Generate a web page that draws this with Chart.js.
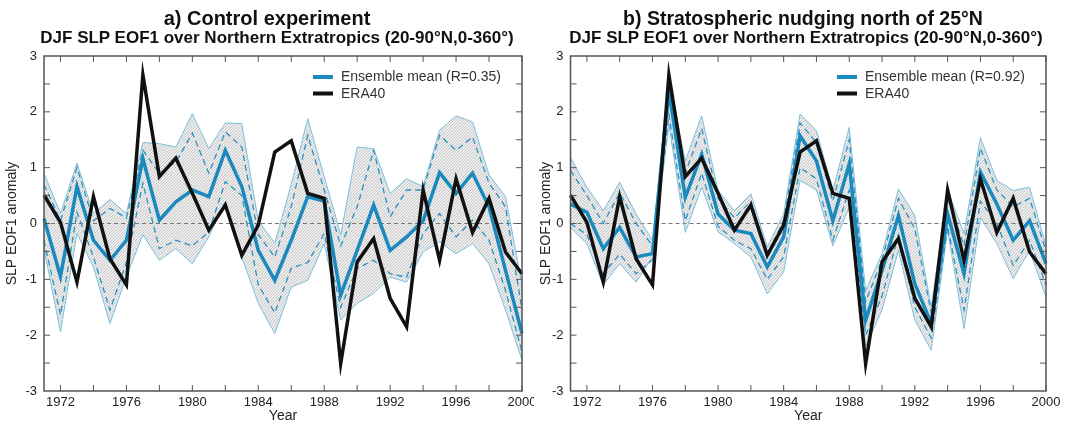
<!DOCTYPE html>
<html>
<head>
<meta charset="utf-8">
<script src="https://cdn.jsdelivr.net/npm/chart.js@4.4.0/dist/chart.umd.min.js"></script>
<style>
body{margin:0;background:#fff;font-family:'Liberation Sans',Arial,sans-serif}
.box{position:absolute;top:0;width:534px;height:427px}
.t{position:absolute;width:600px;text-align:center;font-weight:bold;color:#111;white-space:nowrap}
.t1{font-size:20px;line-height:20px;top:8px}
.t2{font-size:17px;line-height:17px;top:29px}
</style>
</head>
<body>
<div class="box" style="left:0"><canvas id="chartA" width="534" height="427"></canvas></div>
<div class="box" style="left:534px"><canvas id="chartB" width="534" height="427"></canvas></div>
<div class="t t1" style="left:-33px">a) Control experiment</div>
<div class="t t2" style="left:-23px">DJF SLP EOF1 over Northern Extratropics (20-90°N,0-360°)</div>
<div class="t t1" style="left:503px;font-size:19.5px">b) Stratospheric nudging north of 25°N</div>
<div class="t t2" style="left:506px">DJF SLP EOF1 over Northern Extratropics (20-90°N,0-360°)</div>
<script>

let years = [1971,1972,1973,1974,1975,1976,1977,1978,1979,1980,1981,1982,1983,1984,1985,
1986,1987,1988,1989,1990,1991,1992,1993,1994,1995,1996,1997,1998,1999,2000]

let era40 = [0.51,0.02,-1.05,0.48,-0.63,-1.1,2.66,0.84,1.17,0.54,-0.12,0.33,-0.57,-0.03,1.28,
1.48,0.54,0.45,-2.51,-0.69,-0.27,-1.34,-1.85,0.6,-0.66,0.8,-0.16,0.45,-0.51,-0.9]

// a) control run
let ctlMean = [0.09,-0.95,0.66,-0.3,-0.66,-0.3,1.16,0.06,0.39,0.6,0.48,1.31,0.66,-0.48,-1.02,
-0.3,0.48,0.4,-1.28,-0.48,0.33,-0.48,-0.24,0.05,0.91,0.54,0.9,0.3,-0.84,-1.97]
let ctlUpper = [0.9,0.18,1.08,0.18,0.43,0.18,1.45,1.43,1.37,1.97,1.34,1.8,1.79,0.05,-0.35,
0.7,1.88,0.84,-0.2,1.37,1.34,0.54,0.8,0.66,1.67,1.93,1.82,0.87,0.48,-1.1]
let ctlLower = [-0.45,-1.94,-0.18,-0.78,-1.79,-0.95,-0.2,-0.66,-0.45,-0.72,-0.24,0.4,-0.6,-1.43,-1.97,
-1.14,-1.02,-0.36,-1.73,-1.43,-1.25,-0.96,-1.05,-0.51,-0.33,-0.54,-0.36,-0.72,-1.55,-2.45]
let ctlUpDash = [0.7,0.05,1.0,0.05,0.27,0.1,1.31,0.9,1.1,1.62,0.9,1.64,1.37,-0.2,-0.6,
0.3,1.58,0.6,-0.4,0.3,1.31,0.12,0.6,0.6,1.58,1.31,1.55,0.72,0.3,-1.55]
let ctlLoDash = [-0.3,-1.64,0.2,-0.6,-1.55,-0.7,0.72,-0.45,-0.3,-0.4,-0.15,0.75,0.5,-1.1,-1.6,
-0.8,-0.7,-0.18,-1.5,-0.8,-0.66,-0.9,-0.96,-0.18,0.18,-0.24,0.06,-0.3,-1.2,-2.3]

// b) nudged run
let nudMean = [0.35,0.2,-0.45,-0.07,-0.6,-0.54,2.37,0.47,1.24,0.17,-0.12,-0.18,-0.78,-0.24,1.57,
1.12,0.05,1.07,-1.73,-0.84,0.14,-1.08,-1.79,0.17,-0.9,0.92,0.35,-0.3,0.05,-0.72]
let nudUpper = [1.18,0.65,0.23,0.74,0.17,-0.3,2.6,1.12,1.93,0.59,0.23,0.53,-0.42,0.17,1.96,
1.66,0.59,1.72,-1.2,-0.54,0.62,0.14,-1.5,0.6,-0.18,1.54,0.77,0.59,0.65,-0.4]
let nudLower = [-0.07,-0.36,-1.1,-0.72,-1.05,-0.6,1.78,-0.16,0.65,-0.15,-0.36,-0.6,-1.26,-0.87,0.77,
0.6,-0.4,0.29,-2.2,-1.55,-0.48,-1.73,-2.27,-0.12,-1.88,0.11,-0.36,-0.99,-0.48,-1.32]
let nudUpDash = [0.95,0.5,0.0,0.55,0.0,-0.4,2.4,0.9,1.7,0.45,0.1,0.4,-0.55,0.05,1.8,
1.45,0.4,1.5,-1.4,-0.65,0.45,-0.1,-1.6,0.45,-0.4,1.35,0.6,0.3,0.45,-0.5]
let nudLoDash = [0.0,-0.2,-0.9,-0.55,-0.9,-0.65,1.95,0.05,0.9,-0.05,-0.3,-0.45,-1.0,-0.6,1.0,
0.8,-0.3,0.6,-2.0,-1.3,-0.2,-1.5,-2.05,-0.05,-1.55,0.4,0.0,-0.75,-0.3,-1.1]

let blue = "#1a89bd"
let lightBlue = "#7cc0dd"
let dashBlue = "#2a92c4"

Chart.defaults.font.family = "'Liberation Sans', Arial, sans-serif"
Chart.defaults.color = "#222"

function stipple(){
let c = document.createElement("canvas")
c.width = 3
c.height = 3
let g = c.getContext("2d")
g.fillStyle = "#eeeeee"
g.fillRect(0,0,3,3)
g.fillStyle = "#c6c6c6"
g.fillRect(0,0,1,1)
g.fillRect(2,1,1,1)
g.fillRect(1,2,1,1)
return g.createPattern(c,"repeat")
}

// frame, inward ticks, zero line, legend
let decor = {
id:"decor",
beforeDatasetsDraw(chart){
let ctx = chart.ctx
let a = chart.chartArea
let y0 = chart.scales.y.getPixelForValue(0)
ctx.save()
ctx.strokeStyle = "#777"
ctx.lineWidth = 1
ctx.setLineDash([4,3])
ctx.beginPath()
ctx.moveTo(a.left,y0)
ctx.lineTo(a.right,y0)
ctx.stroke()
ctx.restore()
},
afterDraw(chart){
let ctx = chart.ctx
let a = chart.chartArea
let xs = chart.scales.x
let ys = chart.scales.y
ctx.save()
ctx.strokeStyle = "#555"
ctx.lineWidth = 1.5
ctx.strokeRect(a.left,a.top,a.right-a.left,a.bottom-a.top)
ctx.lineWidth = 1
ctx.beginPath()
for(let i=1;i<years.length;i+=2){
let px = xs.getPixelForValue(i)
ctx.moveTo(px,a.bottom)
ctx.lineTo(px,a.bottom-6)
ctx.moveTo(px,a.top)
ctx.lineTo(px,a.top+6)
}
for(let v=-2.5;v<3;v+=0.5){
let py = ys.getPixelForValue(v)
ctx.moveTo(a.left,py)
ctx.lineTo(a.left+6,py)
ctx.moveTo(a.right,py)
ctx.lineTo(a.right-6,py)
}
ctx.stroke()

let lg = chart.options.plugins.decor
let x0 = a.right - 209
ctx.font = "14px 'Liberation Sans', Arial, sans-serif"
ctx.textBaseline = "middle"
ctx.fillStyle = blue
ctx.fillRect(x0,a.top+19,20,4)
ctx.fillStyle = "#111"
ctx.fillRect(x0,a.top+35.5,20,4)
ctx.fillStyle = "#333"
ctx.fillText(lg.meanLabel,x0+28,a.top+21)
ctx.fillText("ERA40",x0+28,a.top+38)
ctx.restore()
}
}

function makeChart(id,meanLabel,mean,upper,lower,upDash,loDash,yWidth,padRight){

let ctx = document.getElementById(id)
let pattern = stipple()

let thin = {pointRadius:0,tension:0}

new Chart(ctx,{
type:"line",
data:{
labels:years,
datasets:[
{label:"ERA40",data:era40,borderColor:"#111",borderWidth:3.5,order:0,...thin},
{label:"Ensemble mean",data:mean,borderColor:blue,borderWidth:3.5,order:1,...thin},
{data:upDash,borderColor:dashBlue,borderWidth:1.3,borderDash:[6,4],order:2,...thin},
{data:loDash,borderColor:dashBlue,borderWidth:1.3,borderDash:[6,4],order:3,...thin},
{data:upper,borderColor:lightBlue,borderWidth:1,fill:"+1",backgroundColor:pattern,order:4,...thin},
{data:lower,borderColor:lightBlue,borderWidth:1,order:5,...thin}
]
},
options:{
responsive:false,
animation:false,
layout:{padding:{left:0,right:padRight,top:56,bottom:0}},
plugins:{
legend:{display:false},
tooltip:{enabled:false},
filler:{drawTime:"beforeDatasetsDraw"},
decor:{meanLabel:meanLabel}
},
scales:{
x:{
grid:{display:false,drawTicks:false},
border:{display:false},
ticks:{
autoSkip:false,
maxRotation:0,
padding:4,
color:"#222",
font:{size:13},
callback:function(v,i){
return years[i]%4==0 ? years[i] : ""
}
},
title:{display:true,text:"Year",font:{size:14},color:"#222",padding:{top:0,bottom:2}},
afterFit:function(s){
s.height = 36
s.paddingLeft = 0
s.paddingRight = 0
}
},
y:{
min:-3,
max:3,
grid:{display:false,drawTicks:false},
border:{display:false},
ticks:{stepSize:1,padding:7,color:"#222",font:{size:13}},
title:{display:true,text:"SLP EOF1 anomaly",font:{size:14},color:"#222",padding:{top:4,bottom:0}},
afterFit:function(s){
s.width = yWidth
s.paddingTop = 0
s.paddingBottom = 0
}
}
}
},
plugins:[decor]
})

}

makeChart("chartA","Ensemble mean (R=0.35)",
ctlMean,ctlUpper,ctlLower,ctlUpDash,ctlLoDash,44,12)

makeChart("chartB","Ensemble mean (R=0.92)",
nudMean,nudUpper,nudLower,nudUpDash,nudLoDash,36.5,22)

</script>
</body>
</html>
